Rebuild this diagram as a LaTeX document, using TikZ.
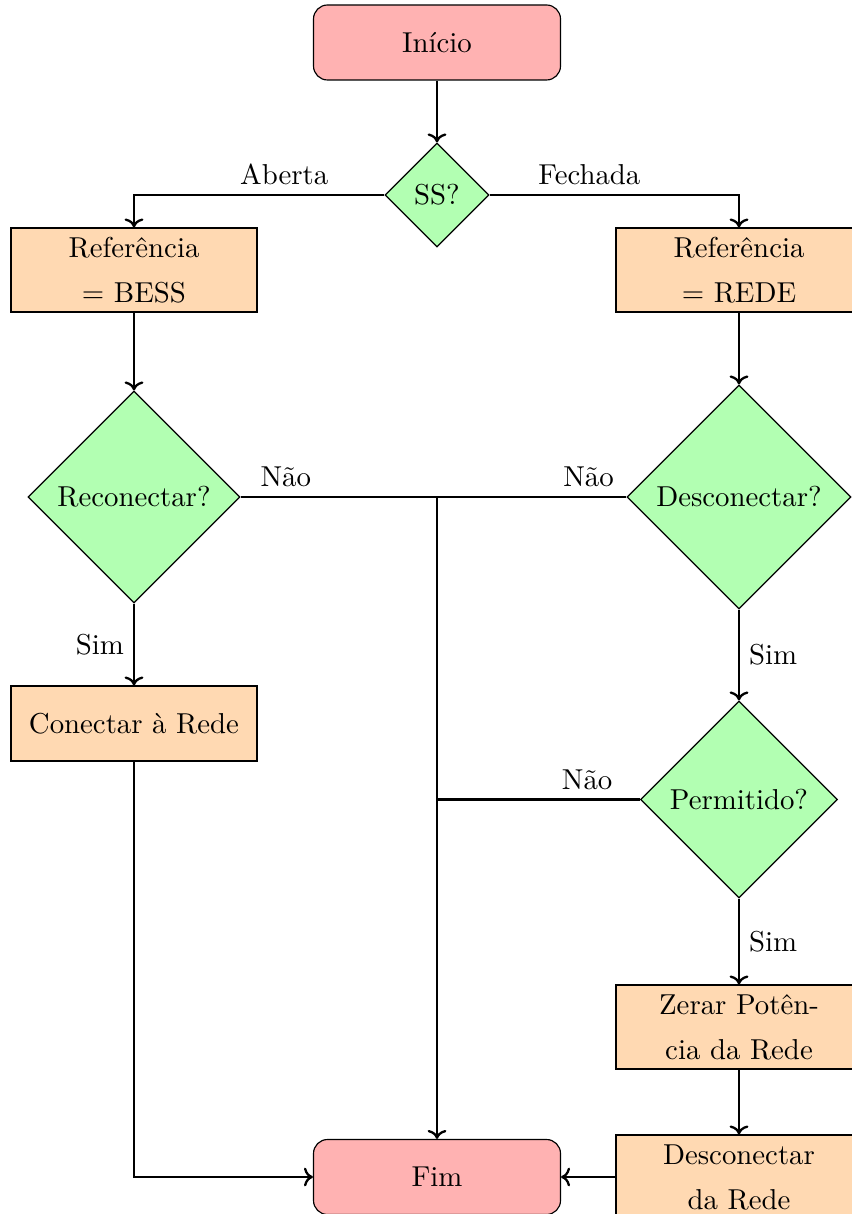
\documentclass[tikz,border=0pt]{standalone}
\usepackage{fontspec}
\setmainfont{lmroman10-regular}[Extension=.otf]
\usetikzlibrary{shapes.geometric,arrows.meta}

\begin{document}
\begin{tikzpicture}[x=1pt,y=-1pt,
  every node/.style={font=\fontsize{28.8}{45}\selectfont},
  terminal/.style={draw=black, line width=1.15pt, fill=red!30, rounded corners=14pt,
    minimum width=247pt, minimum height=75pt, inner sep=0pt},
  process/.style={draw=black, line width=1.15pt, fill=orange!30,
    minimum width=246pt, minimum height=84pt, inner sep=0pt, align=center},
  decision/.style={draw=black, line width=1.15pt, fill=green!30, diamond, aspect=1, inner sep=0pt},
  flow/.style={line width=2.3pt, -{To[scale=1.35]}},
  plain/.style={line width=2.3pt},
  lbl/.style={inner sep=9pt}
]
\useasboundingbox (0,0) rectangle (851,1214);

% nodes
\node[terminal] (ini) at (437,42.5) {Início};
\node[decision, minimum width=104pt, minimum height=104pt] (ss) at (437,195) {SS?};
\node[process] (bess) at (134,270) {Referência\\= BESS};
\node[process] (rede) at (739,270) {Referência\\= REDE};
\node[decision, minimum width=212pt, minimum height=212pt] (recon) at (134,497) {Reconectar?};
\node[decision, minimum width=224pt, minimum height=224pt] (descon) at (739,497) {Desconectar?};
\node[process, minimum height=75pt] (conectar) at (134,723.5) {Conectar à Rede};
\node[decision, minimum width=197pt, minimum height=197pt] (perm) at (739,799.5) {Permitido?};
\node[process] (zerar) at (739,1027) {Zerar Potên-\\cia da Rede};
\node[process] (desrede) at (739,1177) {Desconectar\\da Rede};
\node[terminal] (fim) at (437,1177) {Fim};

\coordinate (junc) at (ss |- recon);
\coordinate (joinp) at (ss |- perm);

% connectors
\draw[flow] (ini) -- (ss);
\draw[flow] (ss.west) -| node[lbl, above, pos=0.2] {Aberta} (bess.north);
\draw[flow] (ss.east) -| node[lbl, above, pos=0.2] {Fechada} (rede.north);
\draw[flow] (bess) -- (recon);
\draw[flow] (rede) -- (descon);
\draw[flow] (recon.east) -- node[lbl, above, pos=0.23] {Não} (junc) -- (fim.north);
\draw[plain] (descon.west) -- node[lbl, above, pos=0.2] {Não} (junc);
\draw[flow] (recon) -- node[lbl, left] {Sim} (conectar);
\draw[flow] (descon) -- node[lbl, right] {Sim} (perm);
\draw[plain] (perm.west) -- node[lbl, above, pos=0.26] {Não} (joinp);
\draw[flow] (perm) -- node[lbl, right] {Sim} (zerar);
\draw[flow] (zerar) -- (desrede);
\draw[flow] (conectar.south) |- (fim.west);
\draw[flow] (desrede.west) -- (fim.east);
\end{tikzpicture}
\end{document}
